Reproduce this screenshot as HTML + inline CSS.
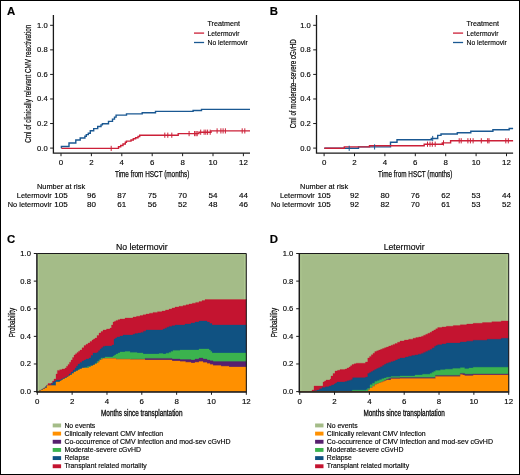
<!DOCTYPE html><html><head><meta charset="utf-8"><style>html,body{margin:0;padding:0;background:#fff;}svg{display:block;will-change:transform;}text{font-family:"Liberation Sans", sans-serif;}</style></head><body>
<svg width="520" height="475" viewBox="0 0 520 475">
<rect x="0" y="0" width="520" height="475" fill="#fff"/>
<rect x="0.5" y="0.5" width="519" height="474" fill="none" stroke="#000" stroke-width="1"/>
<text x="7.00" y="14.50" font-size="11.4" stroke="#000" stroke-width="0.15" font-weight="bold" fill="#000">A</text>
<text x="269.80" y="15.00" font-size="11.4" stroke="#000" stroke-width="0.15" font-weight="bold" fill="#000">B</text>
<text x="7.00" y="242.70" font-size="11.4" stroke="#000" stroke-width="0.15" font-weight="bold" fill="#000">C</text>
<text x="269.80" y="243.20" font-size="11.4" stroke="#000" stroke-width="0.15" font-weight="bold" fill="#000">D</text>
<path d="M53.40 15.0V153.2H250.00" fill="none" stroke="#1a1a1a" stroke-width="1.3"/>
<path d="M50.10 148.10H53.40" stroke="#1a1a1a" stroke-width="1"/>
<text x="47.70" y="150.50" font-size="7.9" stroke="#111" stroke-width="0.15" text-anchor="end" textLength="10.60" lengthAdjust="spacingAndGlyphs">0.0</text>
<path d="M50.10 123.54H53.40" stroke="#1a1a1a" stroke-width="1"/>
<text x="47.70" y="125.94" font-size="7.9" stroke="#111" stroke-width="0.15" text-anchor="end" textLength="10.60" lengthAdjust="spacingAndGlyphs">0.2</text>
<path d="M50.10 98.98H53.40" stroke="#1a1a1a" stroke-width="1"/>
<text x="47.70" y="101.38" font-size="7.9" stroke="#111" stroke-width="0.15" text-anchor="end" textLength="10.60" lengthAdjust="spacingAndGlyphs">0.4</text>
<path d="M50.10 74.42H53.40" stroke="#1a1a1a" stroke-width="1"/>
<text x="47.70" y="76.82" font-size="7.9" stroke="#111" stroke-width="0.15" text-anchor="end" textLength="10.60" lengthAdjust="spacingAndGlyphs">0.6</text>
<path d="M50.10 49.86H53.40" stroke="#1a1a1a" stroke-width="1"/>
<text x="47.70" y="52.26" font-size="7.9" stroke="#111" stroke-width="0.15" text-anchor="end" textLength="10.60" lengthAdjust="spacingAndGlyphs">0.8</text>
<path d="M50.10 25.30H53.40" stroke="#1a1a1a" stroke-width="1"/>
<text x="47.70" y="27.70" font-size="7.9" stroke="#111" stroke-width="0.15" text-anchor="end" textLength="10.60" lengthAdjust="spacingAndGlyphs">1.0</text>
<path d="M61.00 153.2V156.20" stroke="#1a1a1a" stroke-width="1"/>
<text x="61.00" y="164.60" font-size="7.9" stroke="#111" stroke-width="0.15" text-anchor="middle">0</text>
<path d="M91.40 153.2V156.20" stroke="#1a1a1a" stroke-width="1"/>
<text x="91.40" y="164.60" font-size="7.9" stroke="#111" stroke-width="0.15" text-anchor="middle">2</text>
<path d="M121.80 153.2V156.20" stroke="#1a1a1a" stroke-width="1"/>
<text x="121.80" y="164.60" font-size="7.9" stroke="#111" stroke-width="0.15" text-anchor="middle">4</text>
<path d="M152.20 153.2V156.20" stroke="#1a1a1a" stroke-width="1"/>
<text x="152.20" y="164.60" font-size="7.9" stroke="#111" stroke-width="0.15" text-anchor="middle">6</text>
<path d="M182.60 153.2V156.20" stroke="#1a1a1a" stroke-width="1"/>
<text x="182.60" y="164.60" font-size="7.9" stroke="#111" stroke-width="0.15" text-anchor="middle">8</text>
<path d="M213.00 153.2V156.20" stroke="#1a1a1a" stroke-width="1"/>
<text x="213.00" y="164.60" font-size="7.9" stroke="#111" stroke-width="0.15" text-anchor="middle">10</text>
<path d="M243.40 153.2V156.20" stroke="#1a1a1a" stroke-width="1"/>
<text x="243.40" y="164.60" font-size="7.9" stroke="#111" stroke-width="0.15" text-anchor="middle">12</text>
<text x="115.00" y="177.30" font-size="9.3" stroke="#111" stroke-width="0.25" textLength="74.30" lengthAdjust="spacingAndGlyphs">Time from HSCT (months)</text>
<text x="31.30" y="83.75" font-size="8.8" stroke="#111" stroke-width="0.2" text-anchor="middle" textLength="118.00" lengthAdjust="spacingAndGlyphs" transform="rotate(-90 31.30 83.75)">Cml of clinically relevant CMV reactivation</text>
<path d="M61.40 148.20H61.40V146.50H69.00V143.00H75.80V140.00H80.20V138.00H84.90V136.20H86.30V134.60H88.30V133.30H90.30V130.80H93.70V128.60H97.70V126.50H101.00V124.90H102.40V123.80H108.50V121.40H112.50V119.10H114.50V117.10H116.10V115.10H126.50V113.90H142.20V112.70H155.50V111.40H193.10V110.50H201.50V109.40H250.00" fill="none" stroke="#1a5892" stroke-width="1.4"/>
<path d="M61.40 148.40H118.50V146.70H120.70V145.50H123.00V144.00H125.30V142.30H126.40V141.10H131.00V140.00H133.30V138.80H135.60V137.70H138.00V136.50H139.70V135.20H178.20V133.60H198.90V132.20H211.00V130.90H250.00" fill="none" stroke="#cc2038" stroke-width="1.4"/>
<path d="M111.20 145.80V151.00M164.80 132.60V137.80M167.80 132.60V137.80M171.80 132.60V137.80M189.10 131.00V136.20M194.60 131.00V136.20M196.00 131.00V136.20M197.20 131.00V136.20M200.70 129.60V134.80M204.10 129.60V134.80M205.80 129.60V134.80M207.60 129.60V134.80M210.20 129.60V134.80M217.10 128.30V133.50M220.90 128.30V133.50M223.10 128.30V133.50M225.40 128.30V133.50M242.20 128.30V133.50M244.80 128.30V133.50" stroke="#cc2038" stroke-width="1"/>
<text x="207.50" y="26.30" font-size="8.1" stroke="#111" stroke-width="0.15" textLength="32.40" lengthAdjust="spacingAndGlyphs">Treatment</text>
<path d="M194.00 33.1H204.10" stroke="#cc2038" stroke-width="1.3"/>
<path d="M194.00 42.5H204.10" stroke="#1a5892" stroke-width="1.3"/>
<text x="207.50" y="36.00" font-size="8.1" stroke="#111" stroke-width="0.15" textLength="32.00" lengthAdjust="spacingAndGlyphs">Letermovir</text>
<text x="207.50" y="45.40" font-size="8.1" stroke="#111" stroke-width="0.15" textLength="40.30" lengthAdjust="spacingAndGlyphs">No letermovir</text>
<text x="37.00" y="189.00" font-size="7.9" stroke="#111" stroke-width="0.15" textLength="48.10" lengthAdjust="spacingAndGlyphs">Number at risk</text>
<text x="51.60" y="197.60" font-size="7.9" stroke="#111" stroke-width="0.15" text-anchor="end" textLength="34.80" lengthAdjust="spacingAndGlyphs">Letermovir</text>
<text x="51.60" y="207.00" font-size="7.9" stroke="#111" stroke-width="0.15" text-anchor="end" textLength="43.80" lengthAdjust="spacingAndGlyphs">No letermovir</text>
<text x="61.00" y="197.60" font-size="8.05" stroke="#111" stroke-width="0.15" text-anchor="middle">105</text>
<text x="61.00" y="207.20" font-size="8.05" stroke="#111" stroke-width="0.15" text-anchor="middle">105</text>
<text x="91.40" y="197.60" font-size="8.05" stroke="#111" stroke-width="0.15" text-anchor="middle">96</text>
<text x="91.40" y="207.20" font-size="8.05" stroke="#111" stroke-width="0.15" text-anchor="middle">80</text>
<text x="121.80" y="197.60" font-size="8.05" stroke="#111" stroke-width="0.15" text-anchor="middle">87</text>
<text x="121.80" y="207.20" font-size="8.05" stroke="#111" stroke-width="0.15" text-anchor="middle">61</text>
<text x="152.20" y="197.60" font-size="8.05" stroke="#111" stroke-width="0.15" text-anchor="middle">75</text>
<text x="152.20" y="207.20" font-size="8.05" stroke="#111" stroke-width="0.15" text-anchor="middle">56</text>
<text x="182.60" y="197.60" font-size="8.05" stroke="#111" stroke-width="0.15" text-anchor="middle">70</text>
<text x="182.60" y="207.20" font-size="8.05" stroke="#111" stroke-width="0.15" text-anchor="middle">52</text>
<text x="213.00" y="197.60" font-size="8.05" stroke="#111" stroke-width="0.15" text-anchor="middle">54</text>
<text x="213.00" y="207.20" font-size="8.05" stroke="#111" stroke-width="0.15" text-anchor="middle">48</text>
<text x="243.40" y="197.60" font-size="8.05" stroke="#111" stroke-width="0.15" text-anchor="middle">44</text>
<text x="243.40" y="207.20" font-size="8.05" stroke="#111" stroke-width="0.15" text-anchor="middle">46</text>
<path d="M316.50 15.0V153.2H513.10" fill="none" stroke="#1a1a1a" stroke-width="1.3"/>
<path d="M313.20 148.10H316.50" stroke="#1a1a1a" stroke-width="1"/>
<text x="310.80" y="150.50" font-size="7.9" stroke="#111" stroke-width="0.15" text-anchor="end" textLength="10.60" lengthAdjust="spacingAndGlyphs">0.0</text>
<path d="M313.20 123.54H316.50" stroke="#1a1a1a" stroke-width="1"/>
<text x="310.80" y="125.94" font-size="7.9" stroke="#111" stroke-width="0.15" text-anchor="end" textLength="10.60" lengthAdjust="spacingAndGlyphs">0.2</text>
<path d="M313.20 98.98H316.50" stroke="#1a1a1a" stroke-width="1"/>
<text x="310.80" y="101.38" font-size="7.9" stroke="#111" stroke-width="0.15" text-anchor="end" textLength="10.60" lengthAdjust="spacingAndGlyphs">0.4</text>
<path d="M313.20 74.42H316.50" stroke="#1a1a1a" stroke-width="1"/>
<text x="310.80" y="76.82" font-size="7.9" stroke="#111" stroke-width="0.15" text-anchor="end" textLength="10.60" lengthAdjust="spacingAndGlyphs">0.6</text>
<path d="M313.20 49.86H316.50" stroke="#1a1a1a" stroke-width="1"/>
<text x="310.80" y="52.26" font-size="7.9" stroke="#111" stroke-width="0.15" text-anchor="end" textLength="10.60" lengthAdjust="spacingAndGlyphs">0.8</text>
<path d="M313.20 25.30H316.50" stroke="#1a1a1a" stroke-width="1"/>
<text x="310.80" y="27.70" font-size="7.9" stroke="#111" stroke-width="0.15" text-anchor="end" textLength="10.60" lengthAdjust="spacingAndGlyphs">1.0</text>
<path d="M324.10 153.2V156.20" stroke="#1a1a1a" stroke-width="1"/>
<text x="324.10" y="164.60" font-size="7.9" stroke="#111" stroke-width="0.15" text-anchor="middle">0</text>
<path d="M354.50 153.2V156.20" stroke="#1a1a1a" stroke-width="1"/>
<text x="354.50" y="164.60" font-size="7.9" stroke="#111" stroke-width="0.15" text-anchor="middle">2</text>
<path d="M384.90 153.2V156.20" stroke="#1a1a1a" stroke-width="1"/>
<text x="384.90" y="164.60" font-size="7.9" stroke="#111" stroke-width="0.15" text-anchor="middle">4</text>
<path d="M415.30 153.2V156.20" stroke="#1a1a1a" stroke-width="1"/>
<text x="415.30" y="164.60" font-size="7.9" stroke="#111" stroke-width="0.15" text-anchor="middle">6</text>
<path d="M445.70 153.2V156.20" stroke="#1a1a1a" stroke-width="1"/>
<text x="445.70" y="164.60" font-size="7.9" stroke="#111" stroke-width="0.15" text-anchor="middle">8</text>
<path d="M476.10 153.2V156.20" stroke="#1a1a1a" stroke-width="1"/>
<text x="476.10" y="164.60" font-size="7.9" stroke="#111" stroke-width="0.15" text-anchor="middle">10</text>
<path d="M506.50 153.2V156.20" stroke="#1a1a1a" stroke-width="1"/>
<text x="506.50" y="164.60" font-size="7.9" stroke="#111" stroke-width="0.15" text-anchor="middle">12</text>
<text x="378.10" y="177.30" font-size="9.3" stroke="#111" stroke-width="0.25" textLength="74.30" lengthAdjust="spacingAndGlyphs">Time from HSCT (months)</text>
<text x="295.60" y="83.75" font-size="8.8" stroke="#111" stroke-width="0.2" text-anchor="middle" textLength="89.00" lengthAdjust="spacingAndGlyphs" transform="rotate(-90 295.60 83.75)">Cml of moderate&#8211;severe cGvHD</text>
<path d="M324.30 148.30H358.50V146.90H390.50V142.30H397.00V139.80H431.30V138.50H437.70V135.40H441.00V134.00H457.30V132.70H470.80V131.30H492.90V129.80H509.20V128.50H513.10" fill="none" stroke="#1a5892" stroke-width="1.4"/>
<path d="M324.30 148.30H344.30V146.90H369.50V145.80H424.20V144.20H442.30V142.90H450.60V140.80H513.10" fill="none" stroke="#cc2038" stroke-width="1.4"/>
<path d="M427.50 141.60V146.80M430.00 141.60V146.80M432.30 141.60V146.80M435.20 141.60V146.80M443.50 140.30V145.50M459.20 138.20V143.40M461.20 138.20V143.40M467.90 138.20V143.40M470.40 138.20V143.40M473.10 138.20V143.40M481.30 138.20V143.40M487.70 138.20V143.40M489.00 138.20V143.40M505.80 138.20V143.40M508.30 138.20V143.40" stroke="#cc2038" stroke-width="1"/>
<path d="M349.20 145.70V150.90M374.60 144.30V149.50M432.70 135.90V141.10" stroke="#1a5892" stroke-width="1"/>
<text x="466.50" y="26.30" font-size="8.1" stroke="#111" stroke-width="0.15" textLength="32.40" lengthAdjust="spacingAndGlyphs">Treatment</text>
<path d="M453.00 33.1H463.10" stroke="#cc2038" stroke-width="1.3"/>
<path d="M453.00 42.5H463.10" stroke="#1a5892" stroke-width="1.3"/>
<text x="466.50" y="36.00" font-size="8.1" stroke="#111" stroke-width="0.15" textLength="32.00" lengthAdjust="spacingAndGlyphs">Letermovir</text>
<text x="466.50" y="45.40" font-size="8.1" stroke="#111" stroke-width="0.15" textLength="40.30" lengthAdjust="spacingAndGlyphs">No letermovir</text>
<text x="300.10" y="189.00" font-size="7.9" stroke="#111" stroke-width="0.15" textLength="48.10" lengthAdjust="spacingAndGlyphs">Number at risk</text>
<text x="314.70" y="197.60" font-size="7.9" stroke="#111" stroke-width="0.15" text-anchor="end" textLength="34.80" lengthAdjust="spacingAndGlyphs">Letermovir</text>
<text x="314.70" y="207.00" font-size="7.9" stroke="#111" stroke-width="0.15" text-anchor="end" textLength="43.80" lengthAdjust="spacingAndGlyphs">No letermovir</text>
<text x="324.10" y="197.60" font-size="8.05" stroke="#111" stroke-width="0.15" text-anchor="middle">105</text>
<text x="324.10" y="207.20" font-size="8.05" stroke="#111" stroke-width="0.15" text-anchor="middle">105</text>
<text x="354.50" y="197.60" font-size="8.05" stroke="#111" stroke-width="0.15" text-anchor="middle">92</text>
<text x="354.50" y="207.20" font-size="8.05" stroke="#111" stroke-width="0.15" text-anchor="middle">92</text>
<text x="384.90" y="197.60" font-size="8.05" stroke="#111" stroke-width="0.15" text-anchor="middle">80</text>
<text x="384.90" y="207.20" font-size="8.05" stroke="#111" stroke-width="0.15" text-anchor="middle">82</text>
<text x="415.30" y="197.60" font-size="8.05" stroke="#111" stroke-width="0.15" text-anchor="middle">76</text>
<text x="415.30" y="207.20" font-size="8.05" stroke="#111" stroke-width="0.15" text-anchor="middle">70</text>
<text x="445.70" y="197.60" font-size="8.05" stroke="#111" stroke-width="0.15" text-anchor="middle">62</text>
<text x="445.70" y="207.20" font-size="8.05" stroke="#111" stroke-width="0.15" text-anchor="middle">61</text>
<text x="476.10" y="197.60" font-size="8.05" stroke="#111" stroke-width="0.15" text-anchor="middle">53</text>
<text x="476.10" y="207.20" font-size="8.05" stroke="#111" stroke-width="0.15" text-anchor="middle">53</text>
<text x="506.50" y="197.60" font-size="8.05" stroke="#111" stroke-width="0.15" text-anchor="middle">44</text>
<text x="506.50" y="207.20" font-size="8.05" stroke="#111" stroke-width="0.15" text-anchor="middle">52</text>
<rect x="37.30" y="253.5" width="209.00" height="138.10" fill="#a4bc88"/>
<path d="M38.40 255.00H245.10" stroke="#aac38d" stroke-width="1"/>
<path d="M38.40 254.50V391.60M244.70 254.50V391.60" stroke="#b2cc94" stroke-width="1"/>
<path d="M37.30 391.60L37.30 391.60L39.65 391.60L39.65 390.30L42.00 390.30L42.00 389.00L43.50 389.00L43.50 388.00L45.00 388.00L45.00 387.00L46.50 387.00L46.50 385.30L48.00 385.30L48.00 383.60L51.00 383.60L51.00 383.00L52.50 383.00L52.50 381.00L54.00 381.00L54.00 379.00L56.00 379.00L56.00 374.00L57.40 374.00L57.40 370.40L59.70 370.40L59.70 369.70L62.00 369.70L62.00 369.00L65.00 369.00L65.00 368.00L66.50 368.00L66.50 366.20L68.00 366.20L68.00 364.40L69.50 364.40L69.50 362.20L71.00 362.20L71.00 360.00L72.50 360.00L72.50 357.50L74.00 357.50L74.00 355.00L75.50 355.00L75.50 353.70L77.00 353.70L77.00 352.40L78.50 352.40L78.50 351.20L80.00 351.20L80.00 350.00L82.00 350.00L82.00 347.80L84.00 347.80L84.00 345.60L86.00 345.60L86.00 344.30L88.00 344.30L88.00 343.00L90.00 343.00L90.00 341.50L92.00 341.50L92.00 340.00L93.50 340.00L93.50 339.00L95.00 339.00L95.00 338.00L97.00 338.00L97.00 335.50L99.00 335.50L99.00 333.00L101.00 333.00L101.00 331.50L103.00 331.50L103.00 330.00L106.50 330.00L106.50 329.00L110.00 329.00L110.00 328.00L111.50 328.00L111.50 325.00L113.00 325.00L113.00 322.00L114.50 322.00L114.50 321.20L116.00 321.20L116.00 320.40L118.00 320.40L118.00 319.70L120.00 319.70L120.00 319.00L125.00 319.00L125.00 318.00L133.00 318.00L133.00 317.00L136.50 317.00L136.50 316.30L140.00 316.30L140.00 315.60L143.00 315.60L143.00 314.80L146.00 314.80L146.00 314.00L149.50 314.00L149.50 313.20L153.00 313.20L153.00 312.40L157.50 312.40L157.50 311.70L162.00 311.70L162.00 311.00L165.50 311.00L165.50 310.00L169.00 310.00L169.00 309.00L172.00 309.00L172.00 308.00L175.00 308.00L175.00 307.00L179.00 307.00L179.00 306.30L183.00 306.30L183.00 305.60L186.00 305.60L186.00 304.80L189.00 304.80L189.00 304.00L192.33 304.00L192.33 303.20L195.67 303.20L195.67 302.40L199.00 302.40L199.00 301.60L202.00 301.60L202.00 300.60L205.00 300.60L205.00 299.60L246.30 299.60L246.30 299.00L246.30 391.60Z" fill="#c41430" stroke="#c41430" stroke-width="0.3"/>
<path d="M37.30 391.60L37.30 391.60L39.53 391.60L39.53 390.40L41.77 390.40L41.77 389.20L44.00 389.20L44.00 388.00L45.50 388.00L45.50 386.50L47.00 386.50L47.00 385.00L50.00 385.00L50.00 385.00L51.50 385.00L51.50 383.50L53.00 383.50L53.00 382.00L54.50 382.00L54.50 381.00L56.00 381.00L56.00 380.00L61.00 380.00L61.00 379.00L63.00 379.00L63.00 378.00L65.00 378.00L65.00 377.00L67.00 377.00L67.00 376.00L69.00 376.00L69.00 374.00L71.00 374.00L71.00 372.00L73.00 372.00L73.00 370.00L75.00 370.00L75.00 368.00L76.50 368.00L76.50 366.00L78.00 366.00L78.00 364.00L80.00 364.00L80.00 362.50L82.00 362.50L82.00 361.00L84.00 361.00L84.00 360.00L86.00 360.00L86.00 359.00L89.00 359.00L89.00 358.00L91.00 358.00L91.00 355.50L93.00 355.50L93.00 353.00L97.00 353.00L97.00 352.40L98.50 352.40L98.50 350.70L100.00 350.70L100.00 349.00L101.50 349.00L101.50 347.70L103.00 347.70L103.00 346.40L105.00 346.40L105.00 346.00L112.00 346.00L112.00 345.00L114.00 345.00L114.00 339.00L115.50 339.00L115.50 338.00L117.00 338.00L117.00 337.00L120.00 337.00L120.00 336.00L123.00 336.00L123.00 335.00L131.00 335.00L131.00 335.00L133.00 335.00L133.00 334.30L135.00 334.30L135.00 333.60L138.00 333.60L138.00 333.00L141.00 333.00L141.00 332.40L143.50 332.40L143.50 331.20L146.00 331.20L146.00 330.00L159.00 330.00L159.00 330.00L163.00 330.00L163.00 329.00L165.00 329.00L165.00 328.13L167.00 328.13L167.00 327.27L169.00 327.27L169.00 326.40L172.00 326.40L172.00 325.70L175.00 325.70L175.00 325.00L185.00 325.00L185.00 324.00L191.00 324.00L191.00 323.00L195.00 323.00L195.00 322.00L199.00 322.00L199.00 321.00L207.00 321.00L207.00 322.00L209.50 322.00L209.50 323.50L212.00 323.50L212.00 325.00L246.30 325.00L246.30 325.00L246.30 391.60Z" fill="#105282" stroke="#105282" stroke-width="0.3"/>
<path d="M37.30 391.60L37.30 391.60L39.15 391.60L39.15 390.80L41.00 390.80L41.00 390.00L43.00 390.00L43.00 389.00L45.00 389.00L45.00 388.00L47.00 388.00L47.00 385.60L55.00 385.60L55.00 385.60L56.00 385.60L56.00 382.00L60.00 382.00L60.00 381.00L61.50 381.00L61.50 380.00L63.00 380.00L63.00 379.00L65.00 379.00L65.00 378.00L67.00 378.00L67.00 377.00L68.50 377.00L68.50 376.00L70.00 376.00L70.00 375.00L72.00 375.00L72.00 373.50L74.00 373.50L74.00 372.00L76.00 372.00L76.00 371.00L78.00 371.00L78.00 370.00L79.00 370.00L79.00 369.00L81.80 369.00L81.80 368.20L84.60 368.20L84.60 367.40L87.40 367.40L87.40 366.60L90.20 366.60L90.20 365.80L93.00 365.80L93.00 365.00L95.00 365.00L95.00 363.25L97.00 363.25L97.00 361.50L99.00 361.50L99.00 359.75L101.00 359.75L101.00 358.00L105.00 358.00L105.00 357.00L113.00 357.00L113.00 356.00L114.50 356.00L114.50 355.00L116.00 355.00L116.00 354.00L118.00 354.00L118.00 353.00L120.00 353.00L120.00 352.00L125.00 352.00L125.00 351.60L130.00 351.60L130.00 352.40L137.00 352.40L137.00 353.00L143.00 353.00L143.00 354.00L159.00 354.00L159.00 353.60L163.00 353.60L163.00 354.00L166.00 354.00L166.00 353.20L169.00 353.20L169.00 352.40L171.00 352.40L171.00 351.40L173.00 351.40L173.00 350.40L180.00 350.40L180.00 350.00L199.00 350.00L199.00 349.00L209.00 349.00L209.00 350.00L210.50 350.00L210.50 351.50L212.00 351.50L212.00 353.00L246.30 353.00L246.30 353.00L246.30 391.60Z" fill="#3bb34e" stroke="#3bb34e" stroke-width="0.3"/>
<path d="M37.30 391.60L37.30 391.60L39.15 391.60L39.15 390.80L41.00 390.80L41.00 390.00L43.00 390.00L43.00 389.00L45.00 389.00L45.00 388.00L47.00 388.00L47.00 385.60L55.00 385.60L55.00 385.60L56.00 385.60L56.00 382.00L60.00 382.00L60.00 381.00L61.50 381.00L61.50 380.00L63.00 380.00L63.00 379.00L65.00 379.00L65.00 378.00L67.00 378.00L67.00 377.00L68.50 377.00L68.50 376.00L70.00 376.00L70.00 375.00L72.00 375.00L72.00 373.50L74.00 373.50L74.00 372.00L76.00 372.00L76.00 371.00L78.00 371.00L78.00 370.00L80.00 370.00L80.00 369.00L82.00 369.00L82.00 368.00L89.00 368.00L89.00 367.00L91.00 367.00L91.00 366.00L93.00 366.00L93.00 365.00L95.00 365.00L95.00 364.00L97.00 364.00L97.00 363.00L98.50 363.00L98.50 361.50L100.00 361.50L100.00 360.00L101.50 360.00L101.50 359.30L103.00 359.30L103.00 358.60L110.00 358.60L110.00 358.60L113.00 358.60L113.00 358.40L116.00 358.40L116.00 359.20L130.00 359.20L130.00 359.60L131.00 359.60L131.00 359.20L145.00 359.20L145.00 358.40L172.00 358.40L172.00 359.00L180.00 359.00L180.00 359.60L191.00 359.60L191.00 360.00L195.00 360.00L195.00 359.00L199.00 359.00L199.00 358.00L203.00 358.00L203.00 359.00L207.00 359.00L207.00 360.00L210.00 360.00L210.00 360.80L213.00 360.80L213.00 361.60L246.30 361.60L246.30 362.00L246.30 391.60Z" fill="#57206e" stroke="#57206e" stroke-width="0.3"/>
<path d="M37.30 391.60L37.30 391.60L39.15 391.60L39.15 390.80L41.00 390.80L41.00 390.00L43.00 390.00L43.00 389.00L45.00 389.00L45.00 388.00L47.00 388.00L47.00 385.60L55.00 385.60L55.00 385.60L56.00 385.60L56.00 382.00L60.00 382.00L60.00 381.00L61.50 381.00L61.50 380.00L63.00 380.00L63.00 379.00L65.00 379.00L65.00 378.00L67.00 378.00L67.00 377.00L68.50 377.00L68.50 376.00L70.00 376.00L70.00 375.00L72.00 375.00L72.00 373.50L74.00 373.50L74.00 372.00L76.00 372.00L76.00 371.00L78.00 371.00L78.00 370.00L80.00 370.00L80.00 369.00L82.00 369.00L82.00 368.00L89.00 368.00L89.00 367.00L91.00 367.00L91.00 366.00L93.00 366.00L93.00 365.00L95.00 365.00L95.00 364.00L97.00 364.00L97.00 363.00L98.50 363.00L98.50 361.50L100.00 361.50L100.00 360.00L101.50 360.00L101.50 359.30L103.00 359.30L103.00 358.60L110.00 358.60L110.00 358.60L113.00 358.60L113.00 358.40L116.00 358.40L116.00 359.20L130.00 359.20L130.00 359.60L145.00 359.60L145.00 360.00L161.00 360.00L161.00 360.00L172.00 360.00L172.00 361.00L180.00 361.00L180.00 361.60L185.50 361.60L185.50 362.30L191.00 362.30L191.00 363.00L195.00 363.00L195.00 362.30L199.00 362.30L199.00 361.60L203.00 361.60L203.00 362.60L207.00 362.60L207.00 363.60L210.00 363.60L210.00 364.60L213.00 364.60L213.00 365.60L221.00 365.60L221.00 366.30L229.00 366.30L229.00 367.00L246.30 367.00L246.30 367.60L246.30 391.60Z" fill="#ff9000" stroke="#ff9000" stroke-width="0.3"/>
<path d="M37.30 253.5H246.30V391.6" fill="none" stroke="#1a1a1a" stroke-width="1"/>
<path d="M36.90 253.0V391.90000000000003H246.80" fill="none" stroke="#1a1a1a" stroke-width="1.5"/>
<path d="M33.80 391.60H36.90" stroke="#1a1a1a" stroke-width="1"/>
<text x="30.90" y="394.00" font-size="7.9" stroke="#111" stroke-width="0.15" text-anchor="end" textLength="10.60" lengthAdjust="spacingAndGlyphs">0.0</text>
<path d="M33.80 363.98H36.90" stroke="#1a1a1a" stroke-width="1"/>
<text x="30.90" y="366.38" font-size="7.9" stroke="#111" stroke-width="0.15" text-anchor="end" textLength="10.60" lengthAdjust="spacingAndGlyphs">0.2</text>
<path d="M33.80 336.36H36.90" stroke="#1a1a1a" stroke-width="1"/>
<text x="30.90" y="338.76" font-size="7.9" stroke="#111" stroke-width="0.15" text-anchor="end" textLength="10.60" lengthAdjust="spacingAndGlyphs">0.4</text>
<path d="M33.80 308.74H36.90" stroke="#1a1a1a" stroke-width="1"/>
<text x="30.90" y="311.14" font-size="7.9" stroke="#111" stroke-width="0.15" text-anchor="end" textLength="10.60" lengthAdjust="spacingAndGlyphs">0.6</text>
<path d="M33.80 281.12H36.90" stroke="#1a1a1a" stroke-width="1"/>
<text x="30.90" y="283.52" font-size="7.9" stroke="#111" stroke-width="0.15" text-anchor="end" textLength="10.60" lengthAdjust="spacingAndGlyphs">0.8</text>
<path d="M33.80 253.50H36.90" stroke="#1a1a1a" stroke-width="1"/>
<text x="30.90" y="255.90" font-size="7.9" stroke="#111" stroke-width="0.15" text-anchor="end" textLength="10.60" lengthAdjust="spacingAndGlyphs">1.0</text>
<path d="M37.30 391.6V394.80" stroke="#1a1a1a" stroke-width="1"/>
<text x="37.30" y="404.00" font-size="7.9" stroke="#111" stroke-width="0.15" text-anchor="middle">0</text>
<path d="M72.13 391.6V394.80" stroke="#1a1a1a" stroke-width="1"/>
<text x="72.13" y="404.00" font-size="7.9" stroke="#111" stroke-width="0.15" text-anchor="middle">2</text>
<path d="M106.97 391.6V394.80" stroke="#1a1a1a" stroke-width="1"/>
<text x="106.97" y="404.00" font-size="7.9" stroke="#111" stroke-width="0.15" text-anchor="middle">4</text>
<path d="M141.80 391.6V394.80" stroke="#1a1a1a" stroke-width="1"/>
<text x="141.80" y="404.00" font-size="7.9" stroke="#111" stroke-width="0.15" text-anchor="middle">6</text>
<path d="M176.63 391.6V394.80" stroke="#1a1a1a" stroke-width="1"/>
<text x="176.63" y="404.00" font-size="7.9" stroke="#111" stroke-width="0.15" text-anchor="middle">8</text>
<path d="M211.47 391.6V394.80" stroke="#1a1a1a" stroke-width="1"/>
<text x="211.47" y="404.00" font-size="7.9" stroke="#111" stroke-width="0.15" text-anchor="middle">10</text>
<path d="M246.30 391.6V394.80" stroke="#1a1a1a" stroke-width="1"/>
<text x="246.30" y="404.00" font-size="7.9" stroke="#111" stroke-width="0.15" text-anchor="middle">12</text>
<text x="141.80" y="250.10" font-size="8.7" stroke="#111" stroke-width="0.15" text-anchor="middle" textLength="51.80" lengthAdjust="spacingAndGlyphs">No letermovir</text>
<text x="101.00" y="416.30" font-size="8.6" stroke="#111" stroke-width="0.3" textLength="81.50" lengthAdjust="spacingAndGlyphs">Months since transplantation</text>
<text x="14.70" y="322.50" font-size="9.3" stroke="#111" stroke-width="0.25" text-anchor="middle" textLength="29.40" lengthAdjust="spacingAndGlyphs" transform="rotate(-90 14.70 322.50)">Probability</text>
<rect x="52.70" y="423.50" width="8.4" height="3.9" fill="#a4bc88"/>
<text x="64.40" y="427.50" font-size="6.9" stroke="#111" stroke-width="0.15" textLength="30.90" lengthAdjust="spacingAndGlyphs">No events</text>
<rect x="52.70" y="431.66" width="8.4" height="3.9" fill="#ff9000"/>
<text x="64.40" y="435.66" font-size="6.9" stroke="#111" stroke-width="0.15" textLength="98.80" lengthAdjust="spacingAndGlyphs">Clinically relevant CMV infection</text>
<rect x="52.70" y="439.82" width="8.4" height="3.9" fill="#57206e"/>
<text x="64.40" y="443.82" font-size="6.9" stroke="#111" stroke-width="0.15" textLength="166.20" lengthAdjust="spacingAndGlyphs">Co-occurrence of CMV infection and mod-sev cGvHD</text>
<rect x="52.70" y="447.98" width="8.4" height="3.9" fill="#3bb34e"/>
<text x="64.40" y="451.98" font-size="6.9" stroke="#111" stroke-width="0.15" textLength="76.60" lengthAdjust="spacingAndGlyphs">Moderate-severe cGvHD</text>
<rect x="52.70" y="456.14" width="8.4" height="3.9" fill="#105282"/>
<text x="64.40" y="460.14" font-size="6.9" stroke="#111" stroke-width="0.15" textLength="25.00" lengthAdjust="spacingAndGlyphs">Relapse</text>
<rect x="52.70" y="464.30" width="8.4" height="3.9" fill="#c41430"/>
<text x="64.40" y="468.30" font-size="6.9" stroke="#111" stroke-width="0.15" textLength="82.30" lengthAdjust="spacingAndGlyphs">Transplant related mortality</text>
<rect x="299.70" y="253.5" width="209.00" height="138.10" fill="#a4bc88"/>
<path d="M300.80 255.00H507.50" stroke="#aac38d" stroke-width="1"/>
<path d="M300.80 254.50V391.60M507.10 254.50V391.60" stroke="#b2cc94" stroke-width="1"/>
<path d="M299.70 391.60L299.70 391.60L310.00 391.60L310.00 391.60L312.00 391.60L312.00 390.00L314.00 390.00L314.00 386.00L321.00 386.00L321.00 386.00L323.00 386.00L323.00 382.00L324.50 382.00L324.50 381.00L326.00 381.00L326.00 380.00L330.00 380.00L330.00 379.00L331.00 379.00L331.00 376.00L333.00 376.00L333.00 373.50L335.00 373.50L335.00 371.00L337.50 371.00L337.50 370.30L340.00 370.30L340.00 369.60L345.00 369.60L345.00 369.00L347.00 369.00L347.00 368.00L349.00 368.00L349.00 367.00L350.50 367.00L350.50 365.75L352.00 365.75L352.00 364.50L354.10 364.50L354.10 363.85L356.20 363.85L356.20 363.20L365.50 363.20L365.50 362.00L367.80 362.00L367.80 358.00L369.55 358.00L369.55 356.40L371.30 356.40L371.30 354.80L373.05 354.80L373.05 353.20L374.80 353.20L374.80 351.60L376.73 351.60L376.73 350.83L378.67 350.83L378.67 350.07L380.60 350.07L380.60 349.30L382.53 349.30L382.53 348.53L384.47 348.53L384.47 347.77L386.40 347.77L386.40 347.00L388.70 347.00L388.70 346.10L391.00 346.10L391.00 345.20L393.00 345.20L393.00 344.40L395.00 344.40L395.00 343.60L397.50 343.60L397.50 342.30L400.00 342.30L400.00 341.00L404.33 341.00L404.33 340.10L408.67 340.10L408.67 339.20L413.00 339.20L413.00 338.30L415.83 338.30L415.83 337.60L418.67 337.60L418.67 336.90L421.50 336.90L421.50 336.20L423.62 336.20L423.62 335.23L425.75 335.23L425.75 334.25L427.88 334.25L427.88 333.27L430.00 333.27L430.00 332.30L431.93 332.30L431.93 331.12L433.85 331.12L433.85 329.95L435.77 329.95L435.77 328.78L437.70 328.78L437.70 327.60L442.00 327.60L442.00 326.95L446.30 326.95L446.30 326.30L453.30 326.30L453.30 325.55L460.30 325.55L460.30 324.80L466.75 324.80L466.75 324.05L473.20 324.05L473.20 323.30L482.53 323.30L482.53 322.50L491.87 322.50L491.87 321.70L501.20 321.70L501.20 320.90L508.70 320.90L508.70 320.90L508.70 391.60Z" fill="#c41430" stroke="#c41430" stroke-width="0.3"/>
<path d="M299.70 391.60L299.70 391.60L312.00 391.60L312.00 391.60L314.50 391.60L314.50 390.80L317.00 390.80L317.00 390.00L319.50 390.00L319.50 388.80L322.00 388.80L322.00 387.60L325.50 387.60L325.50 386.80L329.00 386.80L329.00 386.00L331.50 386.00L331.50 385.00L334.00 385.00L334.00 384.00L335.50 384.00L335.50 383.00L337.00 383.00L337.00 382.00L345.00 382.00L345.00 381.60L347.20 381.60L347.20 380.87L349.40 380.87L349.40 380.13L351.60 380.13L351.60 379.40L352.70 379.40L352.70 377.70L365.50 377.70L365.50 377.00L367.80 377.00L367.80 373.60L369.55 373.60L369.55 372.58L371.30 372.58L371.30 371.55L373.05 371.55L373.05 370.52L374.80 370.52L374.80 369.50L376.73 369.50L376.73 368.57L378.67 368.57L378.67 367.63L380.60 367.63L380.60 366.70L382.53 366.70L382.53 365.53L384.47 365.53L384.47 364.37L386.40 364.37L386.40 363.20L388.70 363.20L388.70 362.43L391.00 362.43L391.00 361.67L393.30 361.67L393.30 360.90L395.53 360.90L395.53 359.93L397.77 359.93L397.77 358.97L400.00 358.97L400.00 358.00L405.40 358.00L405.40 357.00L408.60 357.00L408.60 356.30L411.80 356.30L411.80 355.60L415.00 355.60L415.00 354.90L418.25 354.90L418.25 354.15L421.50 354.15L421.50 353.40L423.62 353.40L423.62 352.42L425.75 352.42L425.75 351.45L427.88 351.45L427.88 350.48L430.00 350.48L430.00 349.50L432.25 349.50L432.25 347.90L434.50 347.90L434.50 346.30L436.10 346.30L436.10 345.55L437.70 345.55L437.70 344.80L442.00 344.80L442.00 343.95L446.30 343.95L446.30 343.10L460.30 343.10L460.30 342.00L466.75 342.00L466.75 341.15L473.20 341.15L473.20 340.30L487.20 340.30L487.20 339.30L501.20 339.30L501.20 338.30L508.70 338.30L508.70 338.30L508.70 391.60Z" fill="#105282" stroke="#105282" stroke-width="0.3"/>
<path d="M299.70 391.60L299.70 391.60L351.50 391.60L351.50 391.60L352.20 391.60L352.20 390.20L366.00 390.20L366.00 389.80L367.50 389.80L367.50 388.50L370.00 388.50L370.00 384.80L372.40 384.80L372.40 383.20L374.80 383.20L374.80 381.60L377.10 381.60L377.10 380.67L379.40 380.67L379.40 379.73L381.70 379.73L381.70 378.80L384.05 378.80L384.05 378.05L386.40 378.05L386.40 377.30L391.00 377.30L391.00 376.50L400.00 376.50L400.00 376.00L415.00 376.00L415.00 375.00L422.50 375.00L422.50 374.25L430.00 374.25L430.00 373.50L431.83 373.50L431.83 372.50L433.67 372.50L433.67 371.50L435.50 371.50L435.50 370.50L440.35 370.50L440.35 369.85L445.20 369.85L445.20 369.20L452.75 369.20L452.75 368.45L460.30 368.45L460.30 367.70L464.60 367.70L464.60 368.80L468.90 368.80L468.90 368.05L473.20 368.05L473.20 367.30L508.70 367.30L508.70 367.30L508.70 391.60Z" fill="#3bb34e" stroke="#3bb34e" stroke-width="0.3"/>
<path d="M299.70 391.60L299.70 391.60L366.70 391.60L366.70 391.60L368.35 391.60L368.35 389.80L370.00 389.80L370.00 388.00L372.40 388.00L372.40 386.30L374.80 386.30L374.80 384.60L376.73 384.60L376.73 383.83L378.67 383.83L378.67 383.07L380.60 383.07L380.60 382.30L382.53 382.30L382.53 381.27L384.47 381.27L384.47 380.23L386.40 380.23L386.40 379.20L388.70 379.20L388.70 378.50L391.00 378.50L391.00 377.80L400.00 377.80L400.00 377.60L435.00 377.60L435.00 377.40L435.50 377.40L435.50 375.40L460.00 375.40L460.00 375.20L460.30 375.20L460.30 373.40L464.60 373.40L464.60 374.20L473.20 374.20L473.20 373.90L508.70 373.90L508.70 373.90L508.70 391.60Z" fill="#57206e" stroke="#57206e" stroke-width="0.3"/>
<path d="M299.70 391.60L299.70 391.60L366.70 391.60L366.70 391.60L368.35 391.60L368.35 389.80L370.00 389.80L370.00 388.00L372.40 388.00L372.40 386.30L374.80 386.30L374.80 384.60L376.73 384.60L376.73 383.83L378.67 383.83L378.67 383.07L380.60 383.07L380.60 382.30L382.53 382.30L382.53 381.53L384.47 381.53L384.47 380.77L386.40 380.77L386.40 380.00L391.00 380.00L391.00 378.80L400.00 378.80L400.00 378.60L435.00 378.60L435.00 378.40L435.50 378.40L435.50 376.40L460.00 376.40L460.00 376.20L460.30 376.20L460.30 374.40L462.45 374.40L462.45 375.05L464.60 375.05L464.60 375.70L473.20 375.70L473.20 374.90L508.70 374.90L508.70 374.90L508.70 391.60Z" fill="#ff9000" stroke="#ff9000" stroke-width="0.3"/>
<path d="M299.70 253.5H508.70V391.6" fill="none" stroke="#1a1a1a" stroke-width="1"/>
<path d="M299.30 253.0V391.90000000000003H509.20" fill="none" stroke="#1a1a1a" stroke-width="1.5"/>
<path d="M296.20 391.60H299.30" stroke="#1a1a1a" stroke-width="1"/>
<text x="293.30" y="394.00" font-size="7.9" stroke="#111" stroke-width="0.15" text-anchor="end" textLength="10.60" lengthAdjust="spacingAndGlyphs">0.0</text>
<path d="M296.20 363.98H299.30" stroke="#1a1a1a" stroke-width="1"/>
<text x="293.30" y="366.38" font-size="7.9" stroke="#111" stroke-width="0.15" text-anchor="end" textLength="10.60" lengthAdjust="spacingAndGlyphs">0.2</text>
<path d="M296.20 336.36H299.30" stroke="#1a1a1a" stroke-width="1"/>
<text x="293.30" y="338.76" font-size="7.9" stroke="#111" stroke-width="0.15" text-anchor="end" textLength="10.60" lengthAdjust="spacingAndGlyphs">0.4</text>
<path d="M296.20 308.74H299.30" stroke="#1a1a1a" stroke-width="1"/>
<text x="293.30" y="311.14" font-size="7.9" stroke="#111" stroke-width="0.15" text-anchor="end" textLength="10.60" lengthAdjust="spacingAndGlyphs">0.6</text>
<path d="M296.20 281.12H299.30" stroke="#1a1a1a" stroke-width="1"/>
<text x="293.30" y="283.52" font-size="7.9" stroke="#111" stroke-width="0.15" text-anchor="end" textLength="10.60" lengthAdjust="spacingAndGlyphs">0.8</text>
<path d="M296.20 253.50H299.30" stroke="#1a1a1a" stroke-width="1"/>
<text x="293.30" y="255.90" font-size="7.9" stroke="#111" stroke-width="0.15" text-anchor="end" textLength="10.60" lengthAdjust="spacingAndGlyphs">1.0</text>
<path d="M299.70 391.6V394.80" stroke="#1a1a1a" stroke-width="1"/>
<text x="299.70" y="404.00" font-size="7.9" stroke="#111" stroke-width="0.15" text-anchor="middle">0</text>
<path d="M334.53 391.6V394.80" stroke="#1a1a1a" stroke-width="1"/>
<text x="334.53" y="404.00" font-size="7.9" stroke="#111" stroke-width="0.15" text-anchor="middle">2</text>
<path d="M369.37 391.6V394.80" stroke="#1a1a1a" stroke-width="1"/>
<text x="369.37" y="404.00" font-size="7.9" stroke="#111" stroke-width="0.15" text-anchor="middle">4</text>
<path d="M404.20 391.6V394.80" stroke="#1a1a1a" stroke-width="1"/>
<text x="404.20" y="404.00" font-size="7.9" stroke="#111" stroke-width="0.15" text-anchor="middle">6</text>
<path d="M439.03 391.6V394.80" stroke="#1a1a1a" stroke-width="1"/>
<text x="439.03" y="404.00" font-size="7.9" stroke="#111" stroke-width="0.15" text-anchor="middle">8</text>
<path d="M473.87 391.6V394.80" stroke="#1a1a1a" stroke-width="1"/>
<text x="473.87" y="404.00" font-size="7.9" stroke="#111" stroke-width="0.15" text-anchor="middle">10</text>
<path d="M508.70 391.6V394.80" stroke="#1a1a1a" stroke-width="1"/>
<text x="508.70" y="404.00" font-size="7.9" stroke="#111" stroke-width="0.15" text-anchor="middle">12</text>
<text x="404.20" y="250.10" font-size="8.7" stroke="#111" stroke-width="0.15" text-anchor="middle" textLength="41.00" lengthAdjust="spacingAndGlyphs">Letermovir</text>
<text x="363.40" y="416.30" font-size="8.6" stroke="#111" stroke-width="0.3" textLength="81.50" lengthAdjust="spacingAndGlyphs">Months since transplantation</text>
<text x="277.10" y="322.50" font-size="9.3" stroke="#111" stroke-width="0.25" text-anchor="middle" textLength="29.40" lengthAdjust="spacingAndGlyphs" transform="rotate(-90 277.10 322.50)">Probability</text>
<rect x="315.10" y="423.50" width="8.4" height="3.9" fill="#a4bc88"/>
<text x="326.80" y="427.50" font-size="6.9" stroke="#111" stroke-width="0.15" textLength="30.90" lengthAdjust="spacingAndGlyphs">No events</text>
<rect x="315.10" y="431.66" width="8.4" height="3.9" fill="#ff9000"/>
<text x="326.80" y="435.66" font-size="6.9" stroke="#111" stroke-width="0.15" textLength="98.80" lengthAdjust="spacingAndGlyphs">Clinically relevant CMV infection</text>
<rect x="315.10" y="439.82" width="8.4" height="3.9" fill="#57206e"/>
<text x="326.80" y="443.82" font-size="6.9" stroke="#111" stroke-width="0.15" textLength="166.20" lengthAdjust="spacingAndGlyphs">Co-occurrence of CMV infection and mod-sev cGvHD</text>
<rect x="315.10" y="447.98" width="8.4" height="3.9" fill="#3bb34e"/>
<text x="326.80" y="451.98" font-size="6.9" stroke="#111" stroke-width="0.15" textLength="76.60" lengthAdjust="spacingAndGlyphs">Moderate-severe cGvHD</text>
<rect x="315.10" y="456.14" width="8.4" height="3.9" fill="#105282"/>
<text x="326.80" y="460.14" font-size="6.9" stroke="#111" stroke-width="0.15" textLength="25.00" lengthAdjust="spacingAndGlyphs">Relapse</text>
<rect x="315.10" y="464.30" width="8.4" height="3.9" fill="#c41430"/>
<text x="326.80" y="468.30" font-size="6.9" stroke="#111" stroke-width="0.15" textLength="82.30" lengthAdjust="spacingAndGlyphs">Transplant related mortality</text>
</svg></body></html>
